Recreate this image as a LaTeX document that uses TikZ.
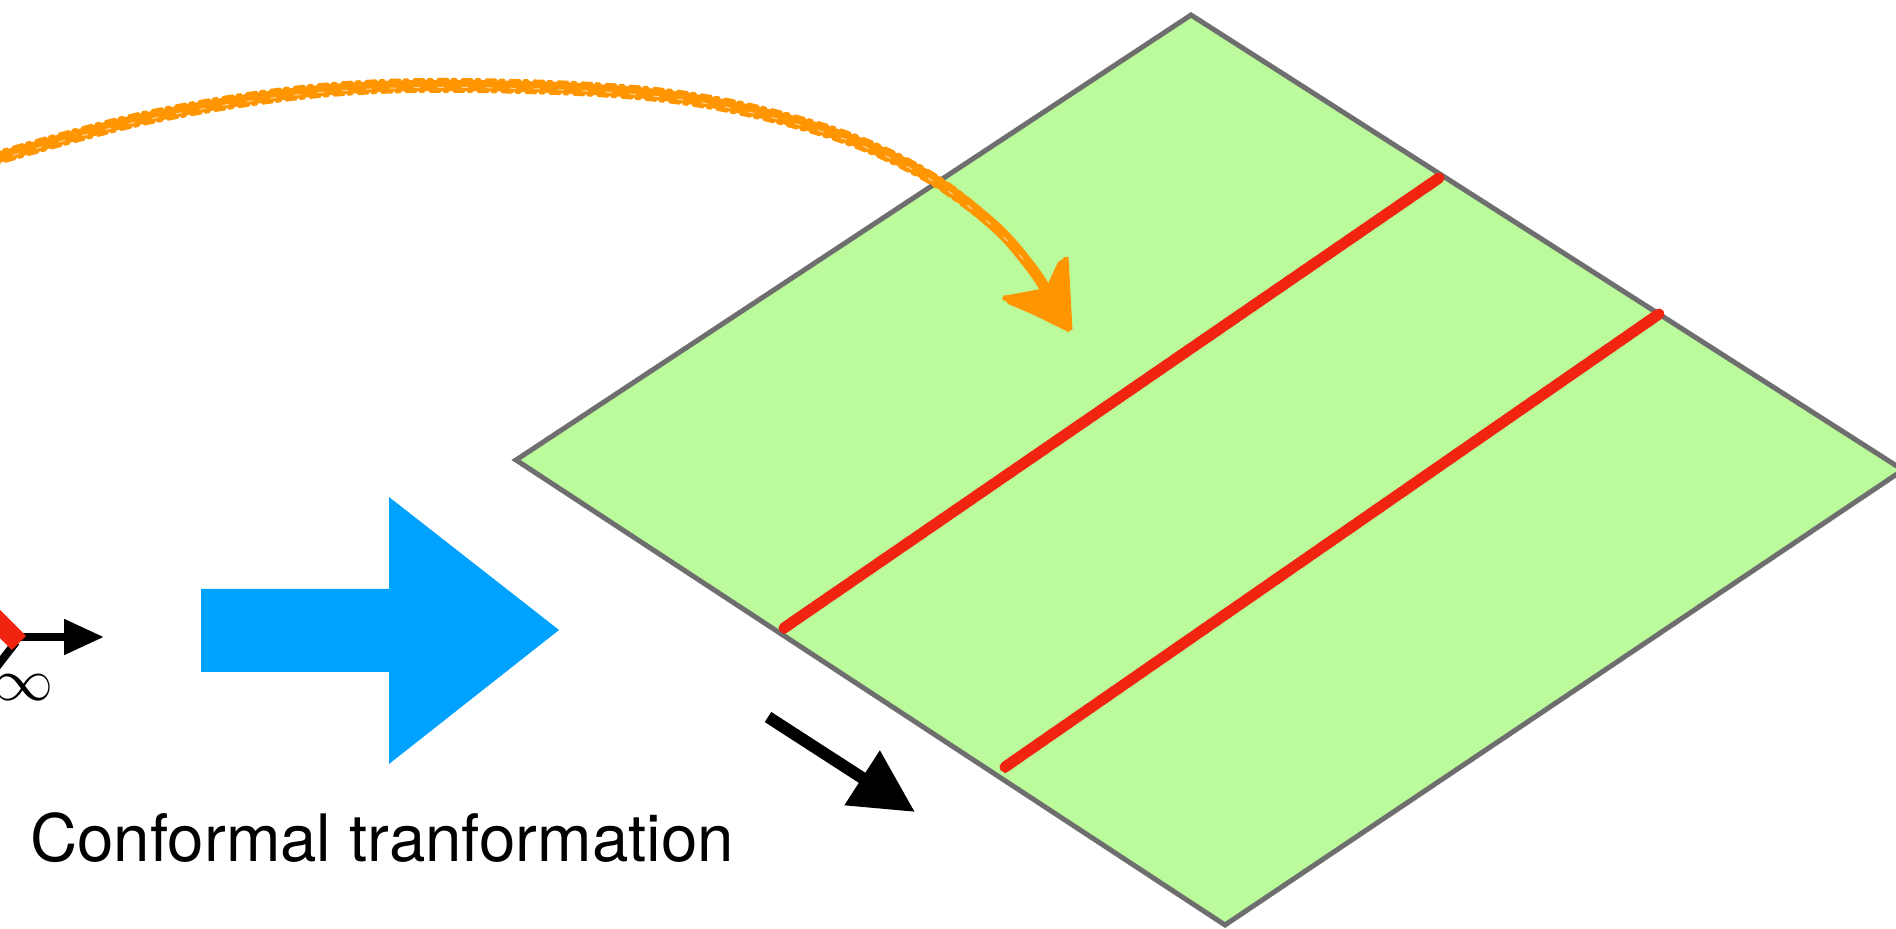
\RequirePackage{fix-cm}
\documentclass[tikz,border=0pt]{standalone}
\usepackage{fontspec}
\setsansfont{TeX Gyre Heros}
\usetikzlibrary{arrows.meta}

\definecolor{planegreen}{RGB}{187,251,155}
\definecolor{planeedge}{RGB}{110,110,110}
\definecolor{stripred}{RGB}{240,36,16}
\definecolor{mapblue}{RGB}{0,162,255}
\definecolor{crayon}{RGB}{255,149,0}

\tikzset{
  plane/.style={fill=planegreen, draw=planeedge, line width=2.5pt, line join=miter},
  strip/.style={draw=stripred, line width=5.5pt, line cap=round},
  stripgrain/.style={draw=stripred, line width=1.2pt, line cap=round,
    dash pattern=on 6pt off 2pt on 3pt off 4pt},
  crayonline/.style={draw=crayon, line width=5.5pt, line cap=round, line join=round},
  crayonedge/.style={draw=crayon, line width=1.4pt, line cap=round,
    dash pattern=on 5pt off 2pt on 2pt off 3pt},
  flowarrow/.style={draw=black, line width=6pt,
    -{Triangle[length=31.5pt,width=31pt]}},
  axisarrow/.style={draw=black, line width=4pt,
    -{Triangle[length=20pt,width=17pt]}},
  caption/.style={font=\sffamily\fontsize{32.7}{38}\selectfont, inner sep=0pt}
}

\begin{document}
\begin{tikzpicture}[x=0.5pt, y=-0.5pt]
\useasboundingbox (0,0) rectangle (1896,929);

% remnants of the strip picture on the left
\draw[black, line width=4pt] (-15,682) -- (16,642);
\draw[axisarrow] (12,637) -- (104,637);
\draw[stripred, line width=10pt] (-31,593) -- (19,643);
\node[anchor=east, inner sep=0pt, font=\fontsize{30}{36}\selectfont] (inf) at (54,688) {$\infty$};

% the conformal map arrow
\fill[mapblue] (201,589) -- (389,589) -- (389,497) -- (559,630)
  -- (389,764) -- (389,672) -- (201,672) -- cycle;
\node[caption, anchor=base west] (cap) at (30,862) {Conformal tranformation};

% the strip mapped onto the plane
\coordinate (L) at (516,460);
\coordinate (T) at (1191,15);
\coordinate (R) at (1903,470);
\coordinate (B) at (1225,925);
\path[plane] (L) -- (T) -- (R) -- (B) -- cycle;

\coordinate (s1a) at (784,628);
\coordinate (s1b) at (1439,178);
\coordinate (s2a) at (1005,767);
\coordinate (s2b) at (1659,314);
\draw[strip] (s1a) -- (s1b);
\draw[strip] (s2a) -- (s2b);
\draw[stripgrain] ([yshift=-2.5pt]s1a) -- ([yshift=-2.5pt]s1b);
\draw[stripgrain, dash phase=5pt] ([yshift=2.5pt]s1a) -- ([yshift=2.5pt]s1b);
\draw[stripgrain] ([yshift=-2.5pt]s2a) -- ([yshift=-2.5pt]s2b);
\draw[stripgrain, dash phase=5pt] ([yshift=2.5pt]s2a) -- ([yshift=2.5pt]s2b);

% direction arrow below the plane
\coordinate (da) at (768,717);
\coordinate (db) at (915,812);
\draw[flowarrow] (da) -- (db);

% hand-drawn orange arrow
\draw[crayonline] plot[smooth, tension=0.6] coordinates {(-10,160) (150,117) (326,90) (500,86) (677,97) (820,129) (919,171) (990,222) (1030,266) (1052,300)};
\draw[crayonedge] plot[smooth, tension=0.6] coordinates {(-10,154) (150,111) (326,84) (500,80) (677,91) (820,123) (919,165) (990,217) (1027,262) (1047,296)};
\draw[crayonedge, dash phase=4pt] plot[smooth, tension=0.6] coordinates {(-10,166) (150,123) (326,96) (500,92) (677,103) (820,135) (919,177) (990,227) (1035,270) (1057,302)};
\draw[white, line width=0.5pt, dash pattern=on 3pt off 9pt, opacity=0.6] plot[smooth, tension=0.6] coordinates {(-10,162) (150,119) (326,92) (500,88) (677,99) (820,131) (919,173) (990,224) (1030,268)};
\fill[crayon] (1070,330) -- (1066,257) -- (1058,262) -- (1046,288) -- (1003,296) -- (1008,304) -- cycle;
\draw[crayon, line width=2.5pt, line join=round] (1070,330) -- (1066,257) (1070,330) -- (1003,297);
\end{tikzpicture}
\end{document}
